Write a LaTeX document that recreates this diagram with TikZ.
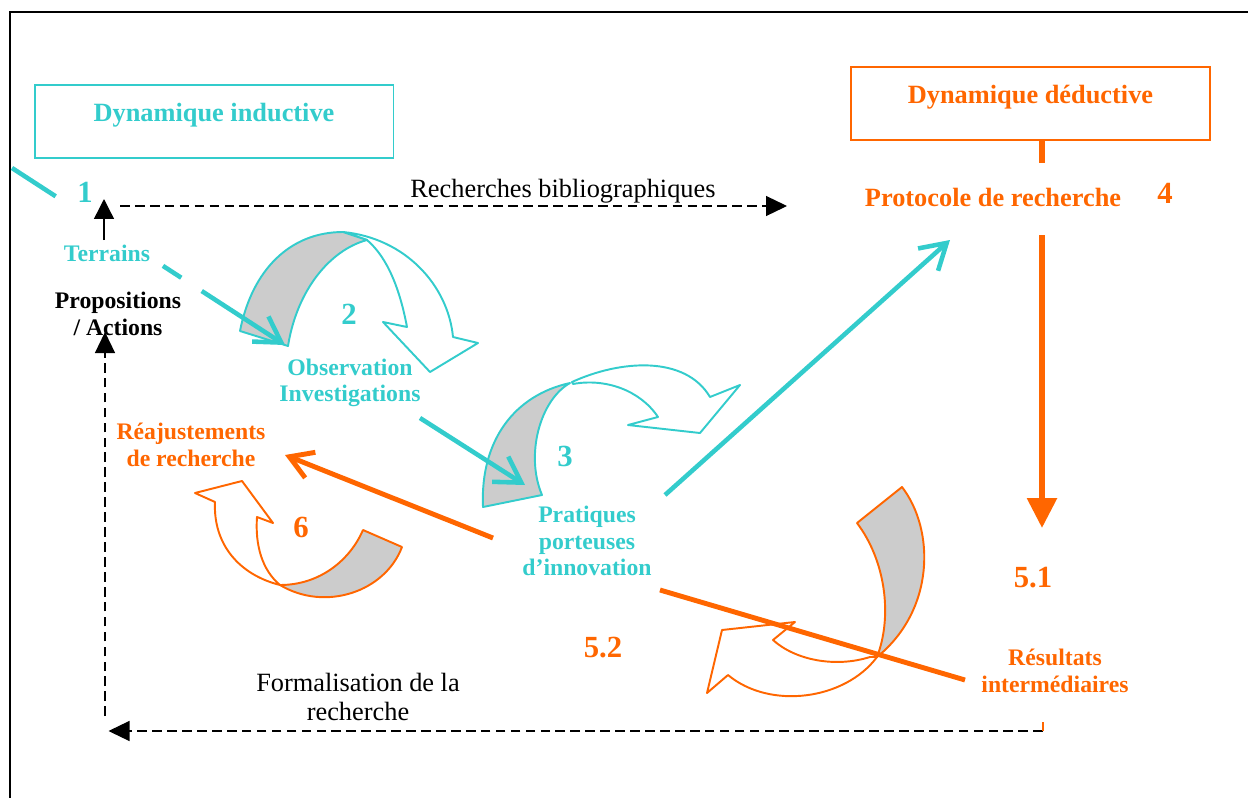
\documentclass[tikz,border=0pt]{standalone}
\usepackage{fontspec}
\setmainfont{Liberation Serif}
\usetikzlibrary{arrows.meta,calc}
\definecolor{turq}{HTML}{33CCCC}
\definecolor{orng}{HTML}{FF6600}
\newcommand{\lblfont}{\fontsize{13.5}{15}\selectfont\bfseries}
\newcommand{\numfont}{\fontsize{17.5}{18}\selectfont\bfseries}
\tikzset{
  lbl/.style={font=\lblfont, align=center, inner sep=1pt},
  lblc/.style={lbl, text=turq},
  lblo/.style={lbl, text=orng},
  numc/.style={font=\numfont, text=turq, inner sep=1pt},
  numo/.style={font=\numfont, text=orng, inner sep=1pt},
  plain/.style={font=\fontsize{15}{16.5}\selectfont, align=center, inner sep=1pt},
  dynbox/.style={draw, line width=1.1pt, font=\fontsize{15}{16}\selectfont\bfseries,
    minimum width=7.18cm, minimum height=1.46cm, text height=0.33cm, text depth=0.33cm},
  cline/.style={turq, line width=2.6pt},
  oline/.style={orng, line width=2.8pt},
  barb/.style={-{Straight Barb[length=5mm,width=6mm]}},
  dashlink/.style={black, line width=0.7pt, dash pattern=on 5.5pt off 3pt,
    -{Triangle[length=4.2mm,width=4mm]}},
  blocc/.style={draw=turq, line width=1.1pt, line join=round},
  bloco/.style={draw=orng, line width=1.1pt, line join=round}
}
\begin{document}
\begin{tikzpicture}[x=0.02cm,y=-0.02cm]
\useasboundingbox (0,0) rectangle (1248,798);
% cadre
\draw[line width=1.3pt] (10,798) -- (10,12) -- (1248,12);

% les deux dynamiques
\node[dynbox, draw=turq, text=turq] (ind) at (214,121.5) {Dynamique inductive};
\node[dynbox, draw=orng, text=orng] (ded) at (1030.5,103.5) {Dynamique déductive};

% textes
\node[numc] (n1) at (85,192) {1};
\node[lblc] (terr) at (107,253) {Terrains};
\node[lbl] (prop) at (118,314) {Propositions\\/ Actions};
\node[numc] (n2) at (349,314) {2};
\node[lblc] (obs) at (350,383) {Observation\\Investigations};
\node[numc] (n3) at (565,456) {3};
\node[lblc] (prat) at (587,541) {Pratiques\\porteuses\\d'innovation};
\node[lblo] (reaj) at (191,445) {Réajustements\\de recherche};
\node[numo] (n6) at (301,527) {6};
\node[numo] (n52) at (603,648) {5.2};
\node[lblo, font=\fontsize{15}{16}\selectfont\bfseries] (proto) at (993,197) {Protocole de recherche};
\node[numo] (n4) at (1165,193) {4};
\node[numo] (n51) at (1033,578) {5.1};
\node[lblo] (res) at (1055,671) {Résultats\\intermédiaires};
\node[plain] (biblio) at (563,191) {Recherches bibliographiques};
\node[plain] (form) at (358,697) {Formalisation de la\\recherche};

% fleches courbes
\filldraw[blocc, fill=white] (343,232) .. controls (405,238) and (448,285) .. (453,337)
  -- (478,343) -- (430,372) -- (383,322) -- (407,327)
  .. controls (400,290) and (388,258) .. (367,240) -- cycle;
\filldraw[blocc, fill=gray!40!white] (240,331) .. controls (252,270) and (290,232) .. (343,232)
  -- (367,240) .. controls (330,250) and (297,290) .. (288,346) -- cycle;

\filldraw[blocc, fill=white] (572,382) .. controls (620,360) and (685,355) .. (710,397)
  -- (740,385) -- (700,433) -- (628,425) -- (658,417)
  .. controls (640,390) and (605,378) .. (573,384) -- cycle;
\filldraw[blocc, fill=gray!40!white] (483,507) .. controls (480,440) and (515,395) .. (570,383)
  .. controls (540,400) and (525,455) .. (542,495) -- cycle;

\filldraw[bloco, fill=white] (280,585) .. controls (240,575) and (213,545) .. (215,502)
  -- (195,493) -- (242,481) -- (273,523) -- (257,517)
  .. controls (255,545) and (262,570) .. (280,585) -- cycle;
\filldraw[bloco, fill=gray!40!white] (280,585) .. controls (320,585) and (350,560) .. (363,530)
  -- (402,547) .. controls (385,592) and (325,612) .. (280,585) -- cycle;

\filldraw[bloco, fill=white] (877,657) .. controls (845,700) and (770,710) .. (728,675)
  -- (707,693) -- (722,630) -- (795,622) -- (773,640)
  .. controls (795,660) and (835,668) .. (870,657) -- cycle;
\filldraw[bloco, fill=gray!40!white] (857,523) -- (902,487)
  .. controls (935,530) and (935,610) .. (877,657)
  .. controls (893,615) and (885,560) .. (857,523) -- cycle;

% points libres
\coordinate (c0) at (12,168);
\coordinate (c1) at (285,345);
\coordinate (obsout) at (420,418);
\coordinate (in3) at (525,485);
\coordinate (pratout) at (665,495);
\coordinate (protoin) at (950,240);
\coordinate (reajin) at (285,455);
\coordinate (pratleft) at (493,538);
\coordinate (pratright) at (660,590);
\coordinate (resin) at (965,680);
\coordinate (terrtop) at (104,240);
\coordinate (bib0) at (104,199);
\coordinate (bib1) at (120,206);
\coordinate (bib2) at (787,206);
\coordinate (dedlow) at (1042,163);
\coordinate (protolow) at (1042,235);
\coordinate (fleche51) at (1042,528);
\coordinate (resbas) at (1043,731);
\coordinate (coin) at (105,731);
\coordinate (coinhaut) at (105,716);
\coordinate (propbas) at (105,332);

% liaisons inductives
\draw[cline] (c0) -- ($(c0)!0.16!(c1)$);
\draw[cline] ($(c0)!0.553!(c1)$) -- ($(c0)!0.62!(c1)$);
\draw[cline, barb] ($(c0)!0.695!(c1)$) -- (c1);
\draw[cline, barb] (obsout) -- (in3);
\draw[cline, barb] (pratout) -- (protoin);

% liaisons deductives
\draw[oline, -{Straight Barb[length=4.5mm,width=5.5mm]}] (pratleft) -- (reajin);
\draw[oline] (pratright) -- (resin);
\draw[orng, line width=3.4pt] (ded.south -| dedlow) -- (dedlow);
\draw[orng, line width=3.4pt, -{Triangle[length=6mm,width=5.8mm]}] (protolow) -- (fleche51);

% liaisons noires
\draw[line width=0.8pt, -{Triangle[length=4mm,width=4mm]}] (terrtop) -- (bib0);
\draw[dashlink] (bib1) -- (bib2);
\draw[dashlink] (resbas) -- ([xshift=2]coin);
\draw[dashlink] (coinhaut) -- (propbas);
\draw[orng, line width=0.8pt] (resbas) -- ++(0,-9);
\end{tikzpicture}
\end{document}
